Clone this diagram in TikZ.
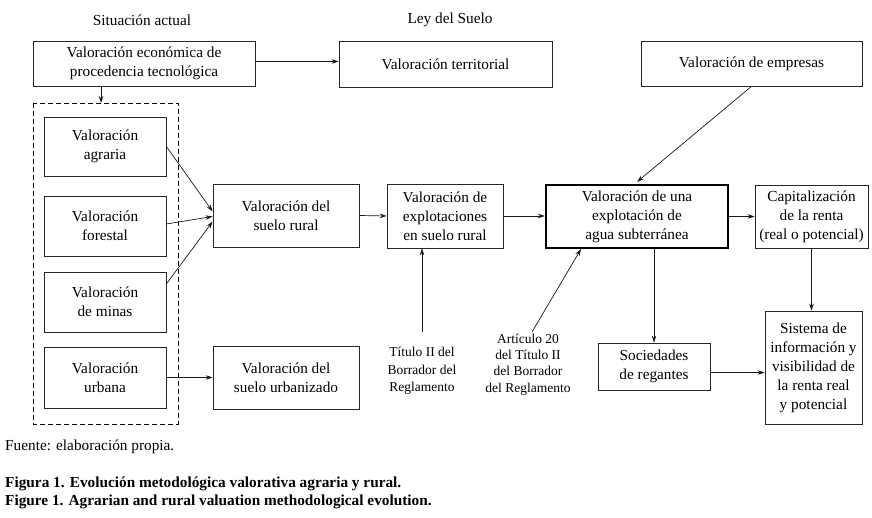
\documentclass[tikz,border=0pt]{standalone}
\usepackage{fontspec}
\setmainfont{Liberation Serif}
\usetikzlibrary{arrows.meta}
\begin{document}
\begin{tikzpicture}[x=1pt,y=-1pt,
  txt/.style={font=\fontsize{15.3}{19}\selectfont, align=center, inner sep=0pt},
  smalltxt/.style={font=\fontsize{13.5}{17.5}\selectfont, align=center, inner sep=0pt},
  box/.style={txt, draw=black!85, line width=0.7pt, rectangle},
  boldbox/.style={box, line width=2.2pt, draw=black},
  arr/.style={draw=black!90, line width=0.7pt, -{Stealth[length=7pt,width=4.5pt]}},
  grp/.style={draw=black, line width=0.8pt, dash pattern=on 5pt off 3pt}
]
\useasboundingbox (0,0) rectangle (872,518);
\fill[white] (0,0) rectangle (872,518);

% headers
\node[txt] (hsit) at (142,20) {Situación actual};
\node[txt] (hley) at (450,20) {Ley del Suelo};

% top row
\node[box, minimum width=222pt, minimum height=45pt] (econ) at (144,63.5) {Valoración económica de\\procedencia tecnológica};
\node[box, minimum width=213pt, minimum height=46pt] (terr) at (445.5,64) {Valoración territorial};
\node[box, minimum width=221pt, minimum height=45pt] (emp) at (751.5,63.5) {Valoración de empresas};

% dashed group
\coordinate (dtl) at (33,103);
\coordinate (dbr) at (178,424);
\draw[grp] (dtl) rectangle (dbr);
\coordinate (dtop) at (101,103);

\node[box, minimum width=122pt, minimum height=59pt] (agr) at (105,146.5) {Valoración\\agraria};
\node[box, minimum width=122pt, minimum height=60pt] (for) at (105,226) {Valoración\\forestal};
\node[box, minimum width=122pt, minimum height=60pt] (min) at (105,302) {Valoración\\de minas};
\node[box, minimum width=122pt, minimum height=61pt] (urb) at (105,377.5) {Valoración\\urbana};

% middle
\node[box, minimum width=146pt, minimum height=63pt] (rural) at (286,215.5) {Valoración del\\suelo rural};
\node[box, minimum width=146pt, minimum height=63pt] (urbz) at (286,377.5) {Valoración del\\suelo urbanizado};
\node[box, minimum width=116pt, minimum height=64pt] (expl) at (445,216) {Valoración de\\explotaciones\\en suelo rural};
\node[boldbox, minimum width=182pt, minimum height=63pt] (agua) at (637,216.5) {Valoración de una\\explotación de\\agua subterránea};
\node[box, minimum width=113pt, minimum height=63pt] (cap) at (811.5,216.5) {Capitalización\\de la renta\\(real o potencial)};
\node[box, minimum width=112pt, minimum height=47pt] (soc) at (654,366.5) {Sociedades\\de regantes};
\node[box, minimum width=97pt, minimum height=113pt] (sis) at (813.5,367.5) {Sistema de\\información y\\visibilidad de\\la renta real\\y potencial};

% labels
\node[smalltxt] (tit) at (422,371) {Título II del\\Borrador del\\Reglamento};
\node[smalltxt, font=\fontsize{13.5}{16.2}\selectfont] (art) at (528,364.5) {Artículo 20\\del Título II\\del Borrador\\del Reglamento};
\coordinate (titstart) at (422,332);
\coordinate (artstart) at (532,332);
\coordinate (artend) at (581,249);

% connectors
\draw[arr] ([yshift=2pt]econ.east) -- ([yshift=2pt]econ.east -| terr.west);
\draw[arr] (econ.south -| dtop) -- (dtop);
\draw[arr] (agr.east) -- ([yshift=4pt]rural.west);
\draw[arr] ([yshift=2pt]for.east) -- ([yshift=-1pt]rural.west);
\draw[arr] ([yshift=18pt]min.east) -- ([yshift=-6pt]rural.west);
\draw[arr] (urb.east) -- (urbz.west);
\draw[arr] (rural.east) -- (expl.west);
\draw[arr] (expl.east) -- (expl.east -| agua.west);
\draw[arr] (agua.east) -- (agua.east -| cap.west);
\draw[arr] (emp.south) -- ([yshift=2pt]agua.north);
\draw[arr] (soc.north |- agua.south) -- (soc.north);
\draw[arr] (cap.south) -- (cap.south |- sis.north);
\draw[arr] ([yshift=-6pt]soc.east) -- ([yshift=-6pt]soc.east -| sis.west);
\draw[arr] (titstart) -- (titstart |- expl.south);
\draw[arr] (artstart) -- (artend);

% footer
\node[txt, anchor=west] (fuente) at (5,447) {Fuente: elaboración propia.};
\node[txt, anchor=west, font=\fontsize{15.3}{19}\selectfont\bfseries] (cap1) at (5,484) {Figura 1. Evolución metodológica valorativa agraria y rural.};
\node[txt, anchor=west, font=\fontsize{15.3}{19}\selectfont\bfseries] (cap2) at (5,502) {Figure 1. Agrarian and rural valuation methodological evolution.};
\end{tikzpicture}
\end{document}
